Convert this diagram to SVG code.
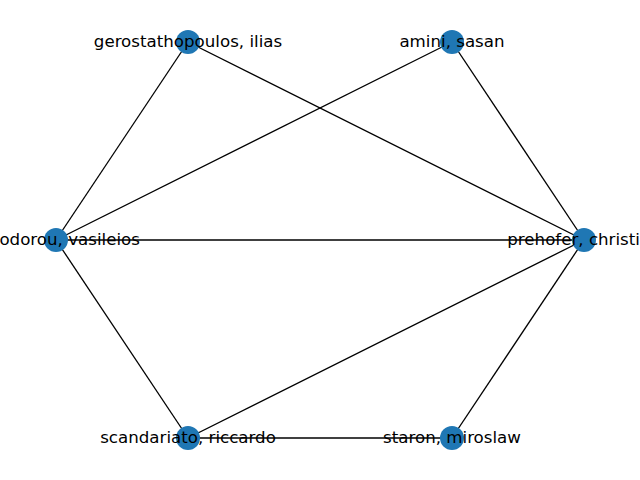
<svg xmlns="http://www.w3.org/2000/svg" width="640" height="480" viewBox="0 0 640 480">
<style>
.e{stroke:#000;stroke-width:1.33;fill:none}
.n circle{fill:#1f77b4}
.n text{font-family:"DejaVu Sans",sans-serif;font-size:16.67px;fill:#000;text-anchor:middle}
</style>
<rect width="640" height="480" fill="#fff"/>
<g id="edges">
<line class="e" x1="188" y1="42" x2="56" y2="240"/>
<line class="e" x1="188" y1="42" x2="584" y2="240"/>
<line class="e" x1="452" y1="42" x2="56" y2="240"/>
<line class="e" x1="452" y1="42" x2="584" y2="240"/>
<line class="e" x1="56" y1="240" x2="584" y2="240"/>
<line class="e" x1="56" y1="240" x2="188" y2="438"/>
<line class="e" x1="584" y1="240" x2="188" y2="438"/>
<line class="e" x1="584" y1="240" x2="452" y2="438"/>
<line class="e" x1="188" y1="438" x2="452" y2="438"/>
</g>
<g id="n-gerostathopoulos" class="n"><circle cx="188" cy="42" r="12"/><text x="188" y="46.5">gerostathopoulos, ilias</text></g>
<g id="n-amini" class="n"><circle cx="452" cy="42" r="12"/><text x="452" y="46.5">amini, sasan</text></g>
<g id="n-theodorou" class="n"><circle cx="56" cy="240" r="12"/><text x="56" y="244.5">theodorou, vasileios</text></g>
<g id="n-prehofer" class="n"><circle cx="584" cy="240" r="12"/><text x="584" y="244.5">prehofer, christian</text></g>
<g id="n-scandariato" class="n"><circle cx="188" cy="438" r="12"/><text x="188" y="442.5">scandariato, riccardo</text></g>
<g id="n-staron" class="n"><circle cx="452" cy="438" r="12"/><text x="452" y="442.5">staron, miroslaw</text></g>
</svg>
